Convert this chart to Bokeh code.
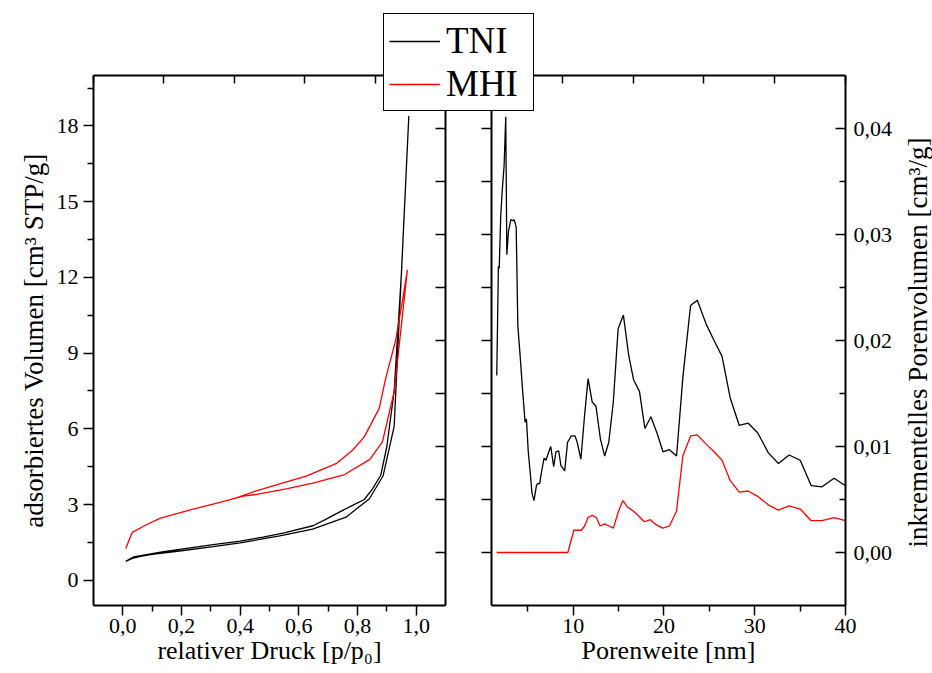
import math
from bokeh.plotting import figure
from bokeh.layouts import row, column
from bokeh.models import (Range1d, LinearAxis, FixedTicker, Legend, LegendItem,
                          CustomJSTickFormatter, Label)
from bokeh.embed import file_html
from bokeh.resources import INLINE

FONT = "Liberation Serif"

# ---------------- data: nitrogen isotherms (left panel) ----------------
# TNI: adsorption branch followed by desorption branch
tni_p = [0.01, 0.03, 0.06, 0.10, 0.15, 0.20, 0.308, 0.40, 0.535, 0.647, 0.761, 0.80,
         0.84, 0.887, 0.925, 0.975,
         0.95, 0.925, 0.90, 0.879, 0.85, 0.823, 0.78, 0.738, 0.69, 0.648, 0.55,
         0.478, 0.40, 0.308, 0.20, 0.139, 0.08, 0.037, 0.01]
tni_v = [0.75, 0.86, 0.95, 1.03, 1.10, 1.17, 1.33, 1.48, 1.76, 2.03, 2.50, 2.86,
         3.22, 4.13, 6.10, 18.4,
         12.2, 7.5, 5.3, 4.15, 3.60, 3.20, 2.95, 2.70, 2.40, 2.16, 1.88,
         1.71, 1.55, 1.41, 1.23, 1.13, 1.02, 0.93, 0.75]

# MHI: adsorption branch followed by desorption branch
mhi_p = [0.01, 0.032, 0.08, 0.128, 0.23, 0.331, 0.41, 0.456, 0.557, 0.648, 0.756,
         0.842, 0.885, 0.925, 0.97,
         0.955, 0.93, 0.896, 0.874, 0.823, 0.783, 0.727, 0.625, 0.523, 0.45, 0.38]
mhi_v = [1.26, 1.90, 2.20, 2.46, 2.79, 3.09, 3.33, 3.40, 3.62, 3.85, 4.19,
         4.79, 5.48, 7.47, 12.3,
         11.2, 9.5, 8.0, 6.81, 5.68, 5.15, 4.62, 4.13, 3.78, 3.52, 3.24]

# ---------------- data: pore size distribution (right panel) ----------------
pw_tni = [1.58, 1.76, 1.85, 2.02, 2.17, 2.39, 2.57, 2.69, 2.87, 3.13, 3.35, 3.50,
          3.72, 3.90, 4.16, 4.40, 4.70, 4.85, 5.05, 5.27, 5.46, 5.68, 5.95, 6.08,
          6.31, 6.49, 6.79, 6.99, 7.23, 7.53, 7.85, 8.10, 8.40, 8.65, 9.06, 9.38,
          9.80, 10.20, 10.44, 10.85, 11.24, 11.64, 12.09, 12.51, 13.00, 13.47,
          13.92, 14.42, 14.95, 15.53, 16.10, 16.65, 17.30, 17.90, 18.56, 19.26,
          19.89, 20.60, 21.39, 22.08, 22.93, 23.67, 24.67, 25.52, 26.40, 27.29,
          28.29, 29.28, 30.32, 31.50, 32.61, 33.79, 35.01, 36.23, 37.41, 38.74,
          40.00]
inc_tni = [0.0167, 0.0270, 0.0268, 0.0318, 0.0340, 0.0365, 0.0411, 0.0281, 0.0303,
           0.0314, 0.0313, 0.0314, 0.0307, 0.0214, 0.0185, 0.0156, 0.0123, 0.0126,
           0.0095, 0.0075, 0.0056, 0.0049, 0.0063, 0.0065, 0.0065, 0.0075, 0.0089,
           0.0087, 0.0093, 0.0100, 0.0081, 0.0095, 0.0096, 0.0082, 0.0077, 0.0104,
           0.0110, 0.0110, 0.0104, 0.0088, 0.0128, 0.0164, 0.0142, 0.0138, 0.0107,
           0.0091, 0.0104, 0.0142, 0.0211, 0.0224, 0.0187, 0.0163, 0.0152, 0.0117,
           0.0128, 0.0112, 0.0095, 0.0097, 0.0091, 0.0165, 0.0233, 0.0238, 0.0215,
           0.0200, 0.0185, 0.0146, 0.0120, 0.0122, 0.0113, 0.0094, 0.0084, 0.0092,
           0.0087, 0.0063, 0.0062, 0.0070, 0.0063]

pw_mhi = [1.58, 9.41, 10.07, 10.44, 10.89, 11.26, 11.63, 12.11, 12.55, 12.96, 13.47,
          13.95, 14.43, 14.95, 15.47, 15.98, 16.65, 17.28, 17.84, 18.50, 19.16,
          19.86, 20.60, 21.38, 22.08, 22.93, 23.67, 24.67, 25.52, 26.40, 27.29,
          28.29, 29.28, 30.32, 31.50, 32.61, 33.79, 35.01, 36.23, 37.41, 38.74,
          40.00]
inc_mhi = [0.0, 0.0, 0.0021, 0.0021, 0.0021, 0.0025, 0.0033, 0.0035, 0.0033, 0.0025,
           0.0027, 0.0025, 0.0023, 0.0038, 0.0049, 0.0043, 0.0039, 0.0034, 0.0029,
           0.0031, 0.0026, 0.0023, 0.0025, 0.0039, 0.0091, 0.0110, 0.0111, 0.0102,
           0.0095, 0.0087, 0.0068, 0.0057, 0.0058, 0.0053, 0.0045, 0.0040, 0.0044,
           0.0041, 0.0030, 0.0030, 0.0033, 0.0030]

series_names = ["TNI", "MHI"]
series_colors = ["black", "red"]

druck_ticks = [0.0, 0.2, 0.4, 0.6, 0.8, 1.0]
druck_minor = [0.1, 0.3, 0.5, 0.7, 0.9]
vol_ticks = [0, 3, 6, 9, 12, 15, 18]
vol_minor = [1.5, 4.5, 7.5, 10.5, 13.5, 16.5, 19.5]
pw_ticks = [10, 20, 30, 40]
pw_minor = [5, 15, 25, 35]
inc_ticks = [0.0, 0.01, 0.02, 0.03, 0.04]
inc_minor = [0.005, 0.015, 0.025, 0.035]
inc_all = [0.0, 0.005, 0.01, 0.015, 0.02, 0.025, 0.03, 0.035, 0.04]
top_ticks = [0, 1, 2, 3, 4, 5]

RIGHT_TITLE = "inkrementelles Porenvolumen [cm\u00b3/g]"

# ---------------- geometry ----------------
W, H = 932, 673
L1, R1 = 93, 445      # left panel frame
L2, R2 = 491, 845     # right panel frame
TOP, BOT = 75, 605
SPLIT = 468
LEG_LEFT, LEG_TOP = 383, 13
RT_X, RT_Y = 917, 342  # centre of the right-hand axis title (page pixels)

comma1 = CustomJSTickFormatter(code="return tick.toFixed(1).replace('.', ',');")
comma2 = CustomJSTickFormatter(code="return tick.toFixed(2).replace('.', ',');")
blank = CustomJSTickFormatter(code="return '';")


def style_axis(ax, tick_in=0, tick_out=10, minor_in=0, minor_out=6, labels=True,
               title_size="26px"):
    ax.axis_line_color = "black"
    ax.axis_line_width = 2
    ax.major_tick_line_color = "black"
    ax.major_tick_line_width = 1.5
    ax.minor_tick_line_color = "black"
    ax.minor_tick_line_width = 1.5
    ax.major_tick_in = tick_in
    ax.major_tick_out = tick_out
    ax.minor_tick_in = minor_in
    ax.minor_tick_out = minor_out
    ax.major_label_text_font = FONT
    ax.major_label_text_font_size = "22px"
    ax.major_label_text_color = "black" if labels else None
    ax.axis_label_text_font = FONT
    ax.axis_label_text_font_size = title_size
    ax.axis_label_text_font_style = "normal"
    ax.axis_label_text_color = "black"


# ---------------- left panel ----------------
p1 = figure(width=W, height=H, x_range=Range1d(-0.1, 1.1), y_range=Range1d(-1, 20),
            output_backend="svg", toolbar_location=None,
            min_border_left=L1, min_border_right=W - R1,
            min_border_top=TOP, min_border_bottom=H - BOT)
p1.grid.visible = False
p1.outline_line_color = None
p1.background_fill_color = "white"
p1.border_fill_color = "white"

p1.line(tni_p, tni_v, line_color=series_colors[0], line_width=1.3)
p1.line(mhi_p, mhi_v, line_color=series_colors[1], line_width=1.3)

xa = p1.xaxis[0]
xa.ticker = FixedTicker(ticks=druck_ticks, minor_ticks=druck_minor)
xa.formatter = comma1
xa.axis_label = "relativer Druck [p/p\u2080]"
style_axis(xa)
xa.major_label_standoff = 3
xa.axis_label_standoff = 0

ya = p1.yaxis[0]
ya.ticker = FixedTicker(ticks=vol_ticks, minor_ticks=vol_minor)
ya.axis_label = "adsorbiertes Volumen [cm\u00b3 STP/g]"
style_axis(ya, title_size="27px")
ya.major_label_standoff = 5
ya.axis_label_standoff = 5

p1.extra_x_ranges = {"top": Range1d(0, 5)}
p1.extra_y_ranges = {"pv": Range1d(-0.005, 0.045)}
ax_top1 = LinearAxis(x_range_name="top", ticker=FixedTicker(ticks=top_ticks, minor_ticks=[]),
                     formatter=blank)
style_axis(ax_top1, tick_in=8, tick_out=0, labels=False)
p1.add_layout(ax_top1, "above")
ax_r1 = LinearAxis(y_range_name="pv", ticker=FixedTicker(ticks=inc_all, minor_ticks=[]),
                   formatter=blank)
style_axis(ax_r1, tick_in=10, tick_out=0, labels=False)
p1.add_layout(ax_r1, "right")

# ---------------- right panel ----------------
p2 = figure(width=W - SPLIT, height=H, x_range=Range1d(1, 40), y_range=Range1d(-0.005, 0.045),
            y_axis_location="right", output_backend="svg", toolbar_location=None,
            min_border_left=L2 - SPLIT, min_border_right=W - R2,
            min_border_top=TOP, min_border_bottom=H - BOT)
p2.grid.visible = False
p2.outline_line_color = None
p2.background_fill_color = None
p2.border_fill_color = None
p2.margin = (0, 0, 0, -(W - SPLIT))

p2.line(pw_tni, inc_tni, line_color=series_colors[0], line_width=1.3)
p2.line(pw_mhi, inc_mhi, line_color=series_colors[1], line_width=1.3)

xb = p2.xaxis[0]
xb.ticker = FixedTicker(ticks=pw_ticks, minor_ticks=pw_minor)
xb.axis_label = "Porenweite [nm]"
style_axis(xb)
xb.major_label_standoff = 3
xb.axis_label_standoff = 0

yb = p2.yaxis[0]
yb.ticker = FixedTicker(ticks=inc_ticks, minor_ticks=inc_minor)
yb.formatter = comma2
style_axis(yb, tick_in=10, tick_out=0, minor_in=6, minor_out=0)
yb.major_label_standoff = 8

ax_l2 = LinearAxis(ticker=FixedTicker(ticks=inc_all, minor_ticks=[]), formatter=blank)
style_axis(ax_l2, tick_in=0, tick_out=10, labels=False)
p2.add_layout(ax_l2, "left")

p2.extra_x_ranges = {"top": Range1d(0, 5)}
ax_top2 = LinearAxis(x_range_name="top", ticker=FixedTicker(ticks=top_ticks, minor_ticks=[]),
                     formatter=blank)
style_axis(ax_top2, tick_in=8, tick_out=0, labels=False)
p2.add_layout(ax_top2, "above")

# ---------------- overlay: legend + right axis title (frame starts at legend corner) ----------------
p0 = figure(width=W, height=H, x_range=Range1d(0, 1), y_range=Range1d(0, 1),
            x_axis_location=None, y_axis_location=None,
            output_backend="svg", toolbar_location=None,
            min_border_left=LEG_LEFT, min_border_top=LEG_TOP,
            min_border_right=0, min_border_bottom=0)
p0.grid.visible = False
p0.outline_line_color = None
p0.background_fill_color = None
p0.border_fill_color = None
p0.margin = (-H, 0, 0, 0)

nan = float("nan")
k_tni = p0.line(x=[nan], y=[nan], line_color=series_colors[0], line_width=1.3)
k_mhi = p0.line(x=[nan], y=[nan], line_color=series_colors[1], line_width=1.3)

legend = Legend(items=[LegendItem(label=series_names[0], renderers=[k_tni]),
                       LegendItem(label=series_names[1], renderers=[k_mhi])],
                location="top_left")
legend.label_text_font = FONT
legend.label_text_font_size = "37px"
legend.label_text_color = "black"
legend.glyph_width = 51
legend.glyph_height = 20
legend.label_standoff = 6
legend.label_width = 82
legend.padding = 5
legend.spacing = 0
legend.margin = 0
legend.border_line_color = "black"
legend.border_line_alpha = 1.0
legend.border_line_width = 1.3
legend.background_fill_color = "white"
legend.background_fill_alpha = 1.0
p0.add_layout(legend)

ylab = Label(x=RT_X - LEG_LEFT, y=H - RT_Y, x_units="screen", y_units="screen",
             text=RIGHT_TITLE, angle=math.pi / 2,
             text_font=FONT, text_font_size="27px", text_color="black",
             text_align="center", text_baseline="middle")
p0.add_layout(ylab)

layout = column(row(p1, p2, spacing=0), p0, spacing=0)
open("out.html", "w").write(file_html(layout, INLINE))
